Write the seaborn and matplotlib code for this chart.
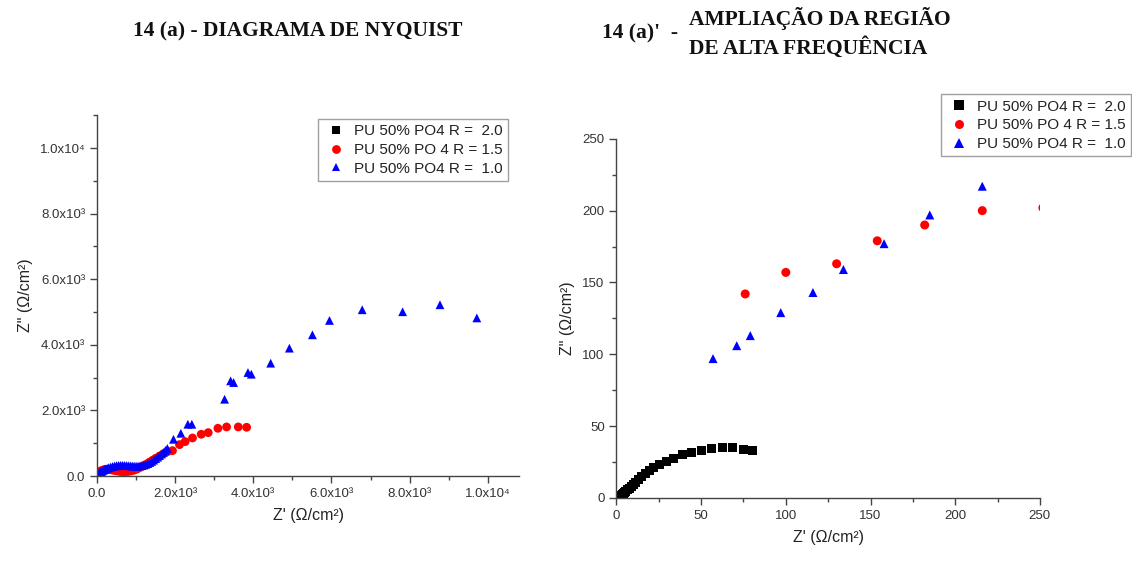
import numpy as np
import pandas as pd
import matplotlib
matplotlib.use("Agg")
import matplotlib.pyplot as plt
from matplotlib.ticker import MultipleLocator, FuncFormatter
import seaborn as sns

# series labels as written in the legend
labels = ["PU 50% PO4 R =  2.0", "PU 50% PO 4 R = 1.5", "PU 50% PO4 R =  1.0"]

# R = 2.0 (black squares) - only visible in the zoomed plot
x_r20 = [0.8, 1.1, 1.4, 1.7, 2.1, 2.5, 3.0, 3.5, 4.1, 4.8, 5.6, 6.5, 7.5, 8.7, 10.0, 11.5,
         13.0, 15.0, 17.0, 19.5, 22.0, 25.6, 29.6, 33.9, 38.8, 44.1, 50.2, 56.1, 62.6, 68.5,
         74.8, 80.5]
y_r20 = [0.0, 0.1, 0.3, 0.5, 0.8, 1.2, 1.7, 2.3, 3.0, 3.8, 4.7, 5.7, 6.8, 8.0, 9.5, 11.0,
         13.0, 15.0, 17.0, 19.0, 21.0, 23.4, 25.3, 27.6, 29.9, 31.3, 33.2, 34.3, 35.0, 35.0,
         34.0, 33.0]

# R = 1.5 (red circles)
x_r15 = [76, 100, 130, 154, 182, 216, 251.8, 300, 360, 420, 490, 560, 630, 700, 780, 860,
         940, 1020, 1100, 1180, 1260, 1340, 1420, 1500, 1600, 1700, 1800, 1931, 2111, 2256,
         2444, 2667, 2846, 3094, 3316, 3615, 3829]
y_r15 = [142, 157, 163, 179, 190, 200, 202, 200, 190, 175, 160, 145, 135, 130, 135, 150,
         175, 210, 260, 310, 360, 420, 480, 540, 610, 680, 740, 773, 957, 1048,
         1160, 1272, 1323, 1455, 1496, 1496, 1486]

# R = 1.0 (blue triangles)
x_r10 = [57, 71, 79, 97, 116, 134, 158, 185, 216, 260, 300, 350, 400, 450, 500, 550, 600,
         650, 700, 750, 800, 850, 900, 950, 1000, 1050, 1100, 1150, 1200, 1250, 1300, 1350,
         1400, 1450, 1500, 1550, 1600, 1650, 1700, 1750, 1800, 1957, 2145, 2325, 2427, 3265,
         3419, 3496, 3863, 3949, 4444, 4923, 5513, 5949, 6787, 7821, 8777, 9720]
y_r10 = [97, 106, 113, 129, 143, 159, 177, 197, 217, 235, 255, 275, 290, 305, 315, 322, 325,
         325, 322, 318, 314, 310, 305, 302, 300, 302, 308, 318, 335, 355, 380, 410,
         445, 485, 530, 575, 620, 670, 720, 780, 840, 1120, 1303, 1578, 1578, 2341,
         2901, 2850, 3155, 3104, 3440, 3898, 4305, 4743, 5069, 5008, 5221, 4820]

df = pd.concat([
    pd.DataFrame({"zr": x_r20, "zi": y_r20, "amostra": labels[0]}),
    pd.DataFrame({"zr": x_r15, "zi": y_r15, "amostra": labels[1]}),
    pd.DataFrame({"zr": x_r10, "zi": y_r10, "amostra": labels[2]}),
])

palette = {labels[0]: "black", labels[1]: "#ff0000", labels[2]: "#0000ff"}
markers = {labels[0]: "s", labels[1]: "o", labels[2]: "^"}

sns.set_style("white")
plt.rcParams["font.family"] = ["Liberation Sans", "DejaVu Sans"]
axis_grey = "#444444"

fig = plt.figure(figsize=(11.32, 5.62), dpi=100)
ax1 = fig.add_axes([0.0857, 0.153, 0.3728, 0.642])
ax2 = fig.add_axes([0.5446, 0.114, 0.374, 0.639])


def sci_label(v, pos):
    if v <= 0:
        return "0.0"
    exp = int(np.floor(np.log10(v) + 1e-9))
    sup = {3: "\u00b3", 4: "\u2074"}.get(exp, str(exp))
    return f"{v / 10**exp:.1f}x10{sup}"


def style_axes(ax):
    for side in ["top", "right"]:
        ax.spines[side].set_visible(False)
    for side in ["left", "bottom"]:
        ax.spines[side].set_color(axis_grey)
        ax.spines[side].set_linewidth(1.0)
    ax.tick_params(which="major", direction="out", length=5, width=1, color=axis_grey,
                   labelsize=9.5, labelcolor="#333333", left=True, bottom=True)
    ax.tick_params(which="minor", direction="out", length=3, width=1, color=axis_grey,
                   left=True, bottom=True)
    ax.set_xlabel("Z' (\u03a9/cm\u00b2)", fontsize=11.5, color="#222222", labelpad=6)
    ax.set_ylabel('Z" (\u03a9/cm\u00b2)', fontsize=11.5, color="#222222", labelpad=5)


# full Nyquist diagram
sns.scatterplot(data=df, x="zr", y="zi", hue="amostra", style="amostra", palette=palette,
                markers=markers, s=40, linewidth=0, ax=ax1)
ax1.set_xlim(0, 10800)
ax1.set_ylim(0, 11000)
ax1.xaxis.set_major_locator(MultipleLocator(2000))
ax1.xaxis.set_minor_locator(MultipleLocator(1000))
ax1.yaxis.set_major_locator(MultipleLocator(2000))
ax1.yaxis.set_minor_locator(MultipleLocator(1000))
ax1.xaxis.set_major_formatter(FuncFormatter(sci_label))
ax1.yaxis.set_major_formatter(FuncFormatter(sci_label))
style_axes(ax1)

# high frequency zoom
sns.scatterplot(data=df, x="zr", y="zi", hue="amostra", style="amostra", palette=palette,
                markers=markers, s=42, linewidth=0, ax=ax2)
ax2.set_xlim(0, 250)
ax2.set_ylim(0, 250)
ax2.xaxis.set_major_locator(MultipleLocator(50))
ax2.xaxis.set_minor_locator(MultipleLocator(25))
ax2.yaxis.set_major_locator(MultipleLocator(50))
ax2.yaxis.set_minor_locator(MultipleLocator(25))
style_axes(ax2)

for ax, anchor in [(ax1, (0.449, 0.788)), (ax2, (0.999, 0.832))]:
    ax.legend_.remove()
    handles, labs = ax.get_legend_handles_labels()
    leg = fig.legend(handles, labs, loc="upper right", bbox_to_anchor=anchor,
                     frameon=True, fancybox=False, fontsize=11, handletextpad=0.4,
                     borderpad=0.35, labelspacing=0.3, handlelength=1.6,
                     borderaxespad=0.0, markerscale=1.0)
    leg.get_frame().set_edgecolor("#888888")
    leg.get_frame().set_linewidth(1.0)
    for t in leg.get_texts():
        t.set_color("#222222")

title_font = dict(family=["Liberation Serif", "DejaVu Serif"], fontweight="bold",
                  fontsize=15.5, color="#111111")
fig.text(0.263, 0.944, "14 (a) - DIAGRAMA DE NYQUIST", ha="center", va="center", **title_font)
fig.text(0.532, 0.94, "14 (a)'  -", ha="left", va="center", **title_font)
fig.text(0.609, 0.967, "AMPLIA\u00c7\u00c3O DA REGI\u00c3O", ha="left", va="center", **title_font)
fig.text(0.609, 0.915, "DE ALTA FREQU\u00caNCIA", ha="left", va="center", **title_font)

fig.savefig("out.png", dpi=100, facecolor="white")
